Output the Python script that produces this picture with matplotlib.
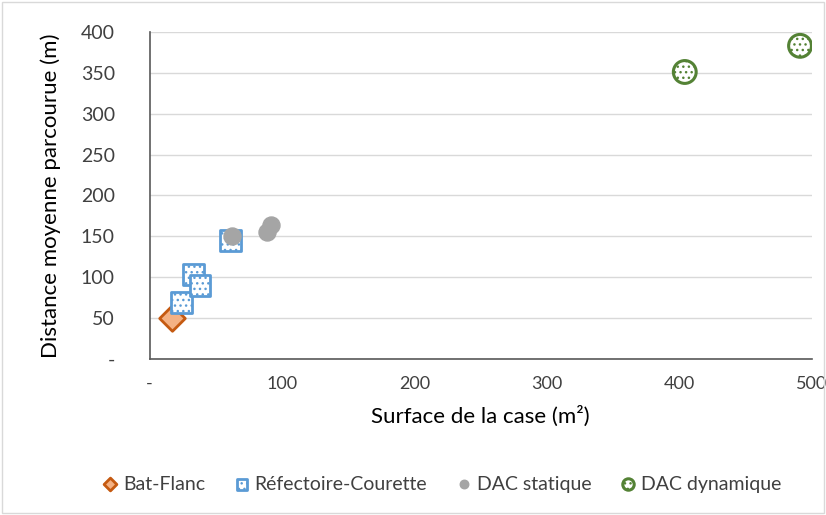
import numpy as np
import matplotlib
matplotlib.use("Agg")
import matplotlib.pyplot as plt
from matplotlib.patches import Rectangle

plt.rcParams['font.family'] = ['Lato', 'DejaVu Sans']
plt.rcParams['hatch.linewidth'] = 1.0

# data
bat_x = [17]
bat_y = [50]

refect_x = [24, 33, 38, 61]
refect_y = [69, 103, 90, 145]

dac_stat_x = [62, 89, 92]
dac_stat_y = [151, 155, 164]

dac_dyn_x = [404, 491]
dac_dyn_y = [351, 383]

x_ticks = [0, 100, 200, 300, 400, 500]
x_labels = ["-", "100", "200", "300", "400", "500"]
y_ticks = [0, 50, 100, 150, 200, 250, 300, 350, 400]
y_labels = ["-", "50", "100", "150", "200", "250", "300", "350", "400"]

fig = plt.figure(figsize=(8.26, 5.15), dpi=100)
ax = fig.add_axes([0.181, 0.303, 0.802, 0.635])

# border round the whole chart
fig.patches.append(Rectangle((0.003, 0.003), 0.994, 0.994, transform=fig.transFigure,
                             fill=False, edgecolor="#d9d9d9", linewidth=1))

ax.scatter(bat_x, bat_y, marker="D", s=170, facecolor="#f4b183", edgecolor="#c55a11",
           linewidth=2, zorder=3, label="Bat-Flanc")
ax.scatter(refect_x, refect_y, marker="s", s=220, facecolor="white", edgecolor="#5b9bd5",
           linewidth=2, hatch="...", zorder=3, label="Réfectoire-Courette")
ax.scatter(dac_stat_x, dac_stat_y, marker="o", s=150, facecolor="#a5a5a5", edgecolor="#a5a5a5",
           linewidth=1, zorder=4, label="DAC statique")
ax.scatter(dac_dyn_x, dac_dyn_y, marker="o", s=270, facecolor="white", edgecolor="#548235",
           linewidth=2.2, hatch="...", zorder=3, label="DAC dynamique")

ax.set_xlim(0, 500)
ax.set_ylim(0, 400)
ax.set_xticks(x_ticks)
ax.set_xticklabels(x_labels)
ax.set_yticks(y_ticks)
ax.set_yticklabels(y_labels)
ax.tick_params(axis="y", length=0, labelsize=14, colors="#404040", pad=25)
ax.tick_params(axis="x", length=0, labelsize=13, colors="#404040", pad=12)

ax.grid(axis="y", color="#d9d9d9", linewidth=1)
ax.set_axisbelow(True)
for side in ["top", "right"]:
    ax.spines[side].set_visible(False)
for side in ["left", "bottom"]:
    ax.spines[side].set_color("#595959")
    ax.spines[side].set_linewidth(1.2)

ax.set_xlabel("Surface de la case (m²)", fontsize=16, color="#000000", labelpad=10)
ax.set_ylabel("Distance moyenne parcourue (m)", fontsize=16, color="#000000", labelpad=14)

leg = fig.legend(loc="center", bbox_to_anchor=(0.534, 0.06), ncol=4, frameon=False,
                 fontsize=14, handletextpad=0.15, columnspacing=1.4, markerscale=0.5,
                 handlelength=1.0)
for t in leg.get_texts():
    t.set_color("#404040")

fig.savefig("out.png", dpi=100)
